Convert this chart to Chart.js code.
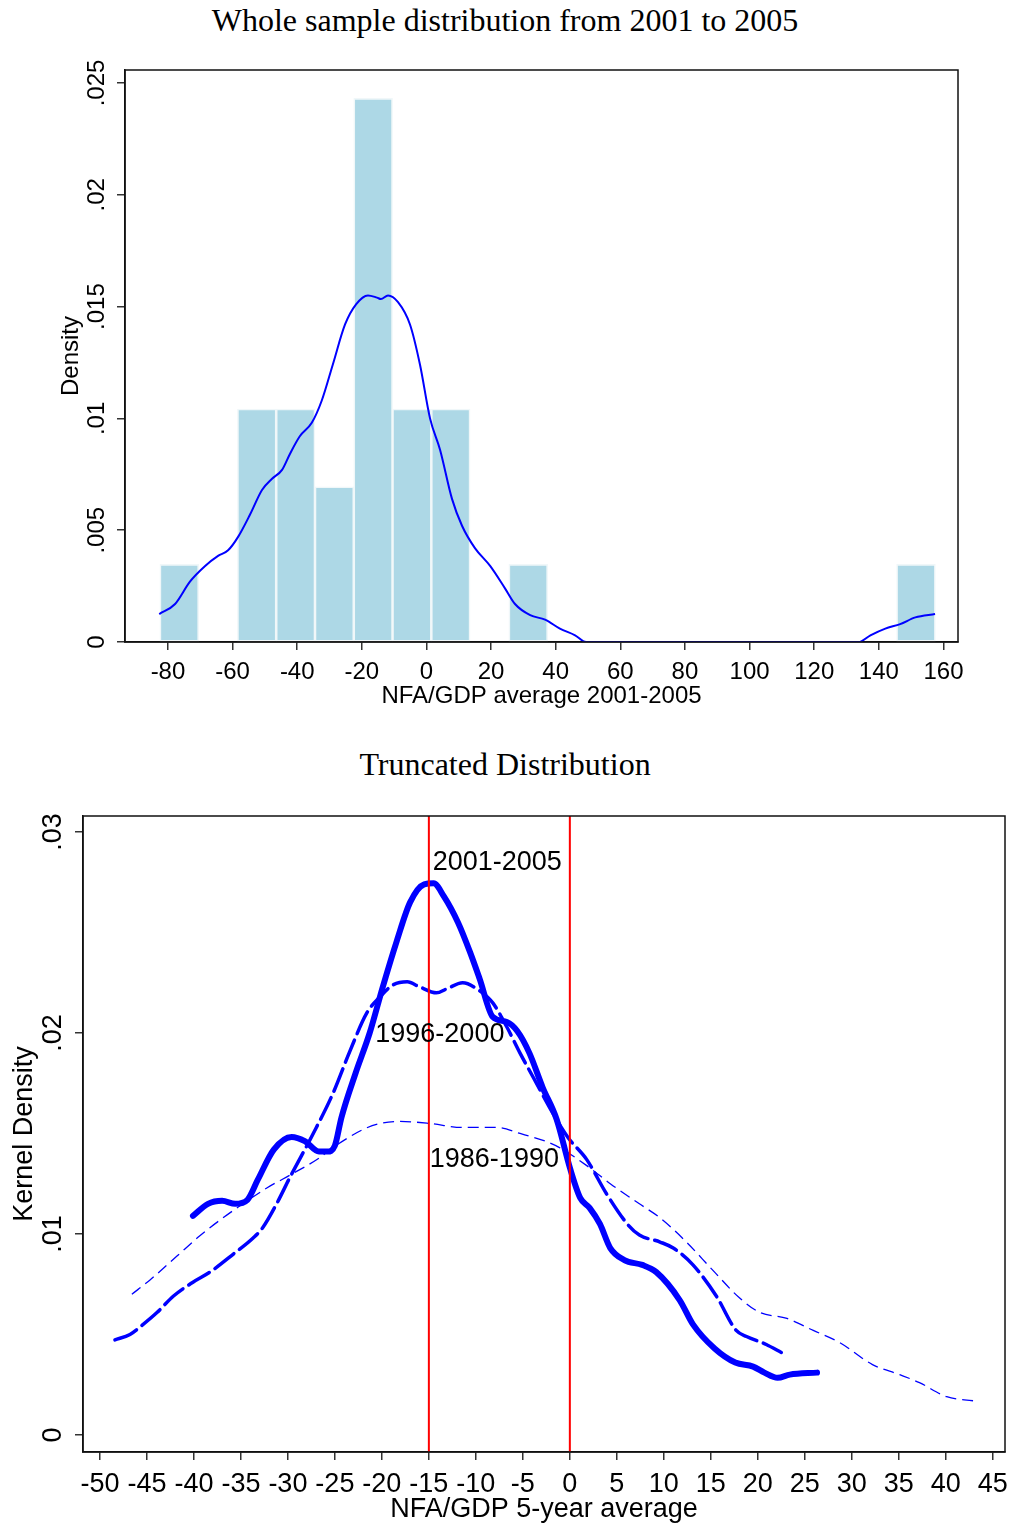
<!DOCTYPE html>
<html>
<head>
<meta charset="utf-8">
<script src="https://cdn.jsdelivr.net/npm/chart.js@4.4.1/dist/chart.umd.min.js"></script>
<style>
html,body{margin:0;padding:0;background:#fff;}
#wrap{position:relative;width:1010px;height:1526px;background:#fff;overflow:hidden;}
.title{position:absolute;left:0;width:1010px;text-align:center;font-family:"Liberation Serif","Times New Roman",serif;font-size:32px;line-height:32px;color:#000;white-space:nowrap;}
canvas{position:absolute;left:0;}
</style>
</head>
<body>
<div id="wrap">
  <div class="title" style="top:4px">Whole sample distribution from 2001 to 2005</div>
  <canvas id="c1" width="1010" height="720" style="top:0;width:1010px;height:720px"></canvas>
  <div class="title" style="top:748px">Truncated Distribution</div>
  <canvas id="c2" width="1010" height="806" style="top:720px;width:1010px;height:806px"></canvas>
</div>
<script>
// ---------------- Top chart data ----------------
const histBinCenters = [-76.5,-64.5,-52.5,-40.5,-28.5,-16.5,-4.5,7.5,19.5,31.5,43.5,55.5,67.5,79.5,91.5,103.5,115.5,127.5,139.5,151.5];
const histDensity    = [0.00347,0,0.01042,0.01042,0.00694,0.02431,0.01042,0.01042,0,0.00347,0,0,0,0,0,0,0,0,0,0.00347];
const kdeX = [-82.7,-77.8,-73.2,-68.5,-64.5,-61.4,-58.3,-54.6,-50.9,-47.8,-44.7,-42.3,-39.2,-35.5,-32.4,-29.0,-25.2,-21.8,-18.1,-15.3,-14.1,-11.9,-8.8,-5.1,-2.0,1.1,4.2,7.9,11.0,15.0,19.7,24.3,27.4,32.1,36.7,41.3,46.0,49.4,133.7,137.4,142.0,146.6,151.3,157.4];
const kdeY = [0.00125,0.0017,0.0027,0.0034,0.00385,0.0041,0.0047,0.0057,0.0068,0.0073,0.0077,0.0084,0.0092,0.0098,0.0108,0.0124,0.0142,0.0151,0.0155,0.0154,0.01534,0.0155,0.0152,0.0142,0.0124,0.0100,0.0086,0.0064,0.0052,0.0042,0.0034,0.0024,0.0017,0.0012,0.0010,0.0006,0.0003,0,0,0.0003,0.0006,0.0008,0.0011,0.00125];
const xTicksTop = [-80,-60,-40,-20,0,20,40,60,80,100,120,140,160];
const xTickLabelsTop = ["-80","-60","-40","-20","0","20","40","60","80","100","120","140","160"];
const yTicksTop = [0,0.005,0.01,0.015,0.02,0.025];
const yTickLabelsTop = ["0",".005",".01",".015",".02",".025"];

// ---------------- Bottom chart data ----------------
const periods = ["2001-2005","1996-2000","1986-1990"];
const x2001 = [-40.1,-38.5,-37,-35.6,-34.3,-33.2,-31.5,-29.6,-28.2,-26.7,-25.8,-25,-24.3,-22.8,-21.3,-19.9,-18.4,-17,-15.5,-14.5,-13.4,-11.9,-10.6,-9.6,-8.2,-6.7,-5.6,-4.3,-2.9,-1.4,0,1.1,2.1,3.2,4.3,5.8,7.7,9.2,11.7,13.1,15.4,17.6,19.5,20.7,22.1,23.4,26.3];
const y2001 = [0.0109,0.0115,0.01165,0.0115,0.0117,0.0127,0.0142,0.01483,0.01462,0.0141,0.0141,0.0144,0.0158,0.018,0.02,0.0223,0.0246,0.0265,0.0274,0.02745,0.0268,0.0255,0.024,0.0227,0.0208,0.02055,0.0201,0.019,0.0173,0.0157,0.0133,0.0118,0.0113,0.0105,0.0093,0.0087,0.00846,0.0081,0.0067,0.0055,0.0043,0.0036,0.0034,0.0031,0.00284,0.003,0.0031];
const x1996 = [-48.4,-46.8,-45.4,-43.9,-42.2,-40.1,-38.3,-35.8,-33.7,-32.7,-31.2,-29.8,-27.3,-25.2,-23.4,-21.6,-20.2,-18.8,-17.3,-16,-14.2,-13.1,-11.4,-9.6,-8.2,-6.7,-5.3,-3.9,-1.8,-0.2,1.8,3.9,6.2,7.4,9.6,11,13.1,15.6,17.7,18.8,20.9,22.5];
const y1996 = [0.00473,0.005,0.0055,0.0061,0.0069,0.0076,0.0081,0.009,0.0098,0.0103,0.0115,0.0128,0.015,0.017,0.0191,0.021,0.0218,0.0224,0.02255,0.0223,0.022,0.0222,0.0225,0.0221,0.0215,0.0203,0.019,0.0178,0.016,0.0148,0.0137,0.012,0.01045,0.00995,0.0096,0.0093,0.00846,0.0069,0.0052,0.0049,0.0045,0.0041];
const x1986 = [-46.6,-44.7,-41.8,-39.4,-37.2,-35.1,-32.2,-29.5,-26.6,-25.2,-22,-20.2,-18.1,-14.9,-11.4,-7.8,-5.3,-2.5,-1.1,1.8,4.3,7.4,9.6,12.4,15.2,18.1,20.2,23.1,25.9,28.7,32.2,35.1,37.2,40.1,42.9];
const y1986 = [0.007,0.0077,0.0089,0.0099,0.0107,0.0114,0.0123,0.013,0.0138,0.0143,0.0152,0.0155,0.0156,0.0155,0.0153,0.0153,0.015,0.0146,0.0143,0.0134,0.0125,0.0115,0.0108,0.0096,0.0082,0.0068,0.0061,0.0058,0.0052,0.0046,0.0035,0.003,0.0026,0.0019,0.0017];
const refLines = [-15, 0];
const labelPosX = [-14.6, -20.7, -14.9];
const labelPosY = [0.0285, 0.0199, 0.0137];
const xTicksBottom = [-50,-45,-40,-35,-30,-25,-20,-15,-10,-5,0,5,10,15,20,25,30,35,40,45];
const xTickLabelsBottom = ["-50","-45","-40","-35","-30","-25","-20","-15","-10","-5","0","5","10","15","20","25","30","35","40","45"];
const yTicksBottom = [0,0.01,0.02,0.03];
const yTickLabelsBottom = ["0",".01",".02",".03"];

// ---------------- helpers ----------------
const SANS = '"Liberation Sans", Arial, sans-serif';
const pts = (xs, ys) => xs.map((x, i) => ({x: x, y: ys[i]}));
const fixTicks = vals => scale => { scale.ticks = vals.map(v => ({value: v})); };
const labelFrom = (vals, labels) => (value) => { const i = vals.indexOf(value); return i >= 0 ? labels[i] : ''; };
const fitSize = (prop, size) => scale => { scale[prop] = size; scale.paddingLeft = 0; scale.paddingRight = 0; scale.paddingTop = 0; scale.paddingBottom = 0; };

const boxPlugin = {
  id: 'box',
  afterDraw(chart) {
    const {ctx, chartArea: a} = chart;
    ctx.save();
    ctx.strokeStyle = '#111';
    ctx.lineWidth = 1.5;
    ctx.strokeRect(a.left, a.top, a.right - a.left, a.bottom - a.top);
    ctx.restore();
  }
};

function xAxis(min, max, vals, labels, fontSize, title, titlePadBottom, tickPad, height) {
  return {
    type: 'linear', position: 'bottom', min: min, max: max,
    afterBuildTicks: fixTicks(vals),
    afterFit: fitSize('height', height),
    ticks: {autoSkip: false, maxRotation: 0, minRotation: 0, padding: tickPad, color: '#000',
            font: {family: SANS, size: fontSize}, callback: labelFrom(vals, labels)},
    grid: {display: true, drawOnChartArea: false, drawTicks: true, tickLength: 8, color: '#333', lineWidth: 1.5},
    border: {display: true, color: '#111', width: 1.5},
    title: {display: true, text: title, color: '#000', font: {family: SANS, size: fontSize}, padding: {top: 0, bottom: titlePadBottom}}
  };
}
function yAxis(min, max, vals, labels, fontSize, title, titlePadTop, tickPad, width) {
  return {
    type: 'linear', position: 'left', min: min, max: max,
    afterBuildTicks: fixTicks(vals),
    afterFit: fitSize('width', width),
    ticks: {autoSkip: false, minRotation: 90, maxRotation: 90, crossAlign: 'center', padding: tickPad, color: '#000',
            font: {family: SANS, size: fontSize}, callback: labelFrom(vals, labels)},
    grid: {display: true, drawOnChartArea: false, drawTicks: true, tickLength: 8, color: '#333', lineWidth: 1.5},
    border: {display: true, color: '#111', width: 1.5},
    title: {display: true, text: title, color: '#000', font: {family: SANS, size: fontSize}, padding: {top: titlePadTop, bottom: 0}}
  };
}

// ---------------- Top chart ----------------
new Chart(document.getElementById('c1'), {
  type: 'line',
  data: {
    datasets: [
      {
        type: 'bar', xAxisID: 'xb', yAxisID: 'y', order: 1, grouped: false,
        data: pts(histBinCenters, histDensity),
        backgroundColor: 'rgb(173,216,230)',
        borderColor: 'rgb(240,247,249)',
        borderWidth: 1.6, borderSkipped: false,
        barPercentage: 1.0, categoryPercentage: 1.0
      },
      {
        type: 'line', xAxisID: 'x', yAxisID: 'y', order: 0,
        data: pts(kdeX, kdeY),
        borderColor: '#0000ff', borderWidth: 2, pointRadius: 0,
        cubicInterpolationMode: 'monotone', fill: false
      }
    ]
  },
  options: {
    responsive: false, animation: false, devicePixelRatio: 1, events: [],
    layout: {padding: {left: 0, right: 52, top: 70, bottom: 0}},
    plugins: {legend: {display: false}, tooltip: {enabled: false}, title: {display: false}},
    scales: {
      x: xAxis(-93.3, 164.5, xTicksTop, xTickLabelsTop, 24, 'NFA/GDP average 2001-2005', 9, 7.5, 78),
      xb: {type: 'linear', display: false, min: -93.3, max: 164.5, offset: false,
           afterBuildTicks: fixTicks(histBinCenters)},
      y: yAxis(0, 0.02558, yTicksTop, yTickLabelsTop, 24, 'Density', 56.5, -4, 125)
    }
  },
  plugins: [boxPlugin]
});

// ---------------- Bottom chart ----------------
const refLinePlugin = {
  id: 'refLines',
  afterDatasetsDraw(chart) {
    const {ctx, chartArea: a, scales: {x}} = chart;
    ctx.save();
    ctx.strokeStyle = '#ff0000';
    ctx.lineWidth = 2;
    refLines.forEach(v => {
      const px = x.getPixelForValue(v);
      ctx.beginPath(); ctx.moveTo(px, a.top); ctx.lineTo(px, a.bottom); ctx.stroke();
    });
    ctx.restore();
  }
};
const periodLabelPlugin = {
  id: 'periodLabels',
  afterDatasetsDraw(chart) {
    const {ctx, scales: {x, y}} = chart;
    ctx.save();
    ctx.fillStyle = '#000';
    ctx.font = '27px ' + SANS;
    ctx.textAlign = 'left';
    ctx.textBaseline = 'middle';
    periods.forEach((p, i) => ctx.fillText(p, x.getPixelForValue(labelPosX[i]), y.getPixelForValue(labelPosY[i])));
    ctx.restore();
  }
};

new Chart(document.getElementById('c2'), {
  type: 'line',
  data: {
    datasets: [
      {label: periods[0], data: pts(x2001, y2001), borderColor: '#0000ff', borderWidth: 6,
       borderCapStyle: 'round', borderJoinStyle: 'round', pointRadius: 0, cubicInterpolationMode: 'monotone', fill: false},
      {label: periods[1], data: pts(x1996, y1996), borderColor: '#0000ff', borderWidth: 3.5, borderDash: [24, 7],
       borderCapStyle: 'round', pointRadius: 0, cubicInterpolationMode: 'monotone', fill: false},
      {label: periods[2], data: pts(x1986, y1986), borderColor: '#0000ff', borderWidth: 1.3, borderDash: [11, 6],
       pointRadius: 0, cubicInterpolationMode: 'monotone', fill: false}
    ]
  },
  options: {
    responsive: false, animation: false, devicePixelRatio: 1, events: [],
    layout: {padding: {left: 0, right: 5, top: 96, bottom: 0}},
    plugins: {legend: {display: false}, tooltip: {enabled: false}, title: {display: false}},
    scales: {
      x: xAxis(-51.8, 46.3, xTicksBottom, xTickLabelsBottom, 27, 'NFA/GDP 5-year average', 0, 8.5, 74),
      y: yAxis(-0.00085, 0.0308, yTicksBottom, yTickLabelsBottom, 27, 'Kernel Density', 8.8, 3, 83)
    }
  },
  plugins: [boxPlugin, refLinePlugin, periodLabelPlugin]
});
</script>
</body>
</html>
